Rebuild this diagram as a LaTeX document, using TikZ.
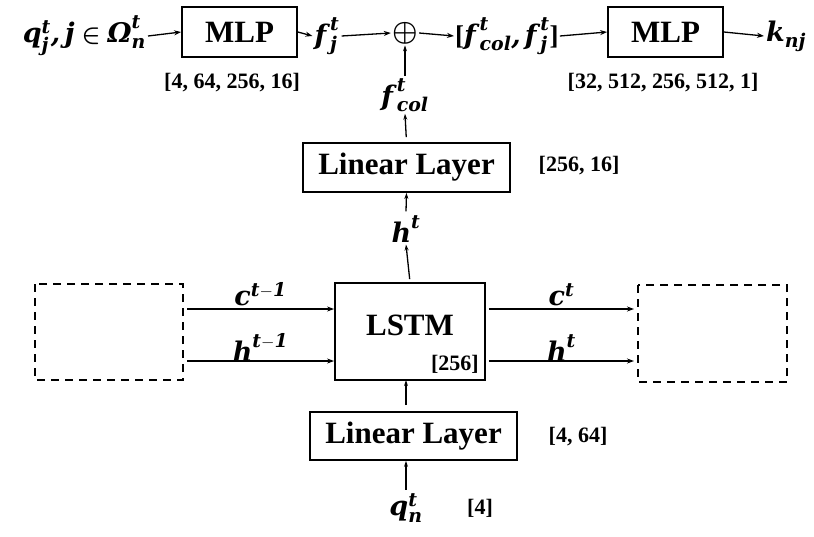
\documentclass[tikz,border=0pt]{standalone}
\usepackage{amsmath}
\usepackage{fontspec}
\setmainfont{Liberation Serif}
\newfontfamily\mfont{DejaVu Serif}
\usetikzlibrary{arrows.meta}
\newcommand\bi[1]{\text{\mfont\bfseries\itshape #1\/}}
\newcommand\bt[1]{\text{\bfseries #1}}
\begin{document}
\begin{tikzpicture}[x=1pt,y=-1pt,
  lab/.style={inner sep=2pt,font=\fontsize{27}{30}\selectfont\bfseries},
  dim/.style={inner sep=0pt,font=\fontsize{22}{26}\selectfont\bfseries},
  blk/.style={draw,line width=1.8pt,inner sep=0pt,font=\fontsize{31}{34}\selectfont\bfseries},
  dbox/.style={draw,line width=1.5pt,dash pattern=on 8pt off 6pt},
  arr/.style={line width=1.3pt,-{Stealth[length=7pt,width=5pt]}},
  varr/.style={line width=1.3pt,-{Stealth[length=6pt,width=4pt]}}]
\useasboundingbox (0,0) rectangle (814,536);
% top row
\node[lab,anchor=east] (qj) at (148,36) {$\bi{q}^{\bi{t}}_{\bi{j}}\bi{,\,j}\mathrel{\boldsymbol{\in}}\bi{Ω}^{\bi{t}}_{\bi{n}}$};
\node[blk,minimum width=115pt,minimum height=50pt] (mlp1) at (239.5,32) {MLP};
\node[lab] (fj) at (327,36) {$\bi{f}^{\bi{t}}_{\bi{j}}$};
\node[lab,inner sep=1pt,scale=1.15] (op) at (405,33) {$\boldsymbol{\oplus}$};
\node[lab,anchor=west,inner sep=1pt] (cat) at (454,36) {$\bt{[}\bi{f}^{\bi{t}}_{\bi{col}}\bi{,}\,\bi{f}^{\bi{t}}_{\bi{j}}\bt{]}$};
\node[blk,minimum width=115pt,minimum height=50pt] (mlp2) at (665.5,32) {MLP};
\node[lab,anchor=west] (knj) at (764,36) {$\bi{k}_{\bi{nj}}$};
\node[dim] (d1) at (232,83) {[4, 64, 256, 16]};
\node[dim] (d2) at (663,83) {[32, 512, 256, 512, 1]};
\node[lab] (fcol) at (405,95) {$\bi{f}^{\bi{t}}_{\bi{col}}$};
\draw[arr] (qj.east) -- (mlp1.west);
\draw[arr] (mlp1.east) -- (fj.west);
\draw[arr] (fj.east) -- (op.west);
\draw[arr] (op.east) -- (cat.west);
\draw[arr] (cat.east) -- (mlp2.west);
\draw[arr] (mlp2.east) -- (knj.west);
\draw[varr] (fcol.north) -- (op.south);
% linear layer 1
\node[blk,minimum width=207pt,minimum height=49pt] (ll1) at (406.5,167.5) {Linear Layer};
\node[dim] (d3) at (579,166) {[256, 16]};
\node[lab] (ht) at (406,229) {$\bi{h}^{\bi{t}}$};
\draw[varr,shorten <=5pt] (ll1.north) -- (fcol.south);
\draw[varr] (ht.north) ++(0,-2) -- (ll1.south);
% LSTM
\node[blk,minimum width=150pt,minimum height=97pt] (lstm) at (410,331.5) {};
\node[blk,draw=none] (lstmt) at (410,325) {LSTM};
\node[dim,anchor=south east] (d256) at ([shift={(-7,-7)}]lstm.south east) {[256]};
\draw[varr,shorten <=3pt] (lstm.north) -- (ht.south);
\draw[dbox] (35,284) rectangle (183,380);
\draw[dbox] (638,285) rectangle (787,382);
\coordinate (lc) at (187,309);
\coordinate (lh) at (187,361);
\coordinate (rc) at (634,309);
\coordinate (rh) at (634,361);
\draw[arr] (lc) -- (lstm.west |- lc) node[lab,midway,above,inner sep=0pt,yshift=2pt] (cl) {$\bi{c}^{\bi{t}-\bi{1}}$};
\draw[arr] (lh) -- (lstm.west |- lh) node[lab,midway,above,inner sep=0pt,yshift=-1pt] (hl) {$\bi{h}^{\bi{t}-\bi{1}}$};
\draw[arr] (lstm.east |- rc) ++(3,0) -- (rc) node[lab,midway,above,inner sep=0pt,yshift=2pt] (cr) {$\bi{c}^{\bi{t}}$};
\draw[arr] (lstm.east |- rh) ++(3,0) -- (rh) node[lab,midway,above,inner sep=0pt,yshift=-1pt] (hr) {$\bi{h}^{\bi{t}}$};
% linear layer 2
\node[blk,minimum width=207pt,minimum height=48pt] (ll2) at (413.5,436) {Linear Layer};
\node[dim] (d4) at (578,437) {[4, 64]};
\node[lab] (qn) at (406,508) {$\bi{q}^{\bi{t}}_{\bi{n}}$};
\node[dim] (d5) at (480,508) {[4]};
\draw[varr,shorten <=6pt] (ll2.north -| lstm) ++(-4,0) -- ++(0,-31);
\draw[varr] (qn.north) ++(0,-2) -- (qn.north |- ll2.south);
\end{tikzpicture}
\end{document}
